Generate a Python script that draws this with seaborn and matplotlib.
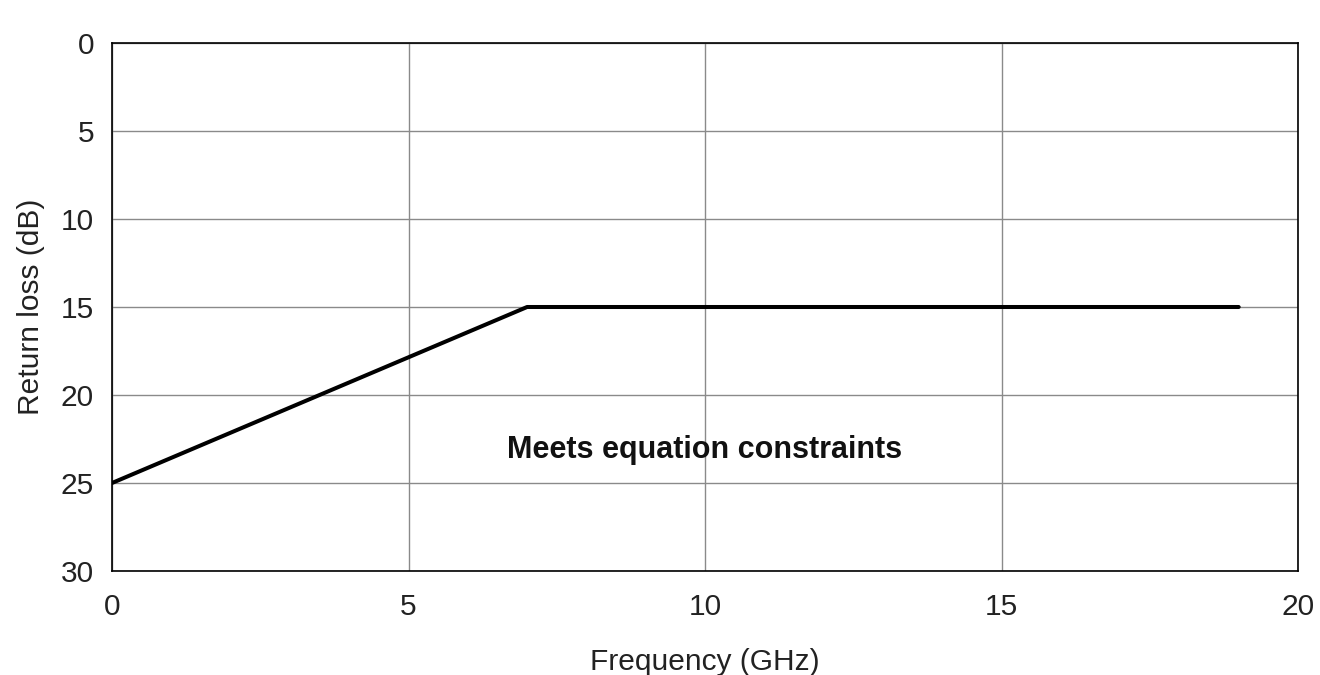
import matplotlib
matplotlib.use("Agg")
import matplotlib.pyplot as plt
import seaborn as sns
import pandas as pd

freq_ghz = [0, 7, 19]
return_loss_db = [25, 15, 15]
x_ticks = [0, 5, 10, 15, 20]
y_ticks = [0, 5, 10, 15, 20, 25, 30]
annotation = "Meets equation constraints"

sns.set_theme(style="white")
plt.rcParams['font.family'] = ['Liberation Sans', 'DejaVu Sans']

df = pd.DataFrame({"Frequency (GHz)": freq_ghz, "Return loss (dB)": return_loss_db})

fig = plt.figure(figsize=(13.2, 6.75), dpi=100)
ax = fig.add_axes([112/1320, 1 - 571/675, (1298-112)/1320, (571-43)/675])

sns.lineplot(data=df, x="Frequency (GHz)", y="Return loss (dB)", ax=ax,
             color="black", linewidth=2.9, sort=False)

ax.set_xlim(0, 20)
ax.set_ylim(30, 0)
ax.set_xticks(x_ticks)
ax.set_yticks(y_ticks)
ax.grid(True, color="#8a8a8a", linewidth=1.0)
ax.set_axisbelow(True)
for s in ax.spines.values():
    s.set_color("black")
    s.set_linewidth(1.2)
ax.tick_params(axis="both", length=0, labelsize=21.5, colors="#222222")
ax.tick_params(axis="y", pad=13)
ax.tick_params(axis="x", pad=16)
ax.set_xlabel("Frequency (GHz)", fontsize=21.5, color="#222222", labelpad=19)
ax.set_ylabel("Return loss (dB)", fontsize=21.5, color="#222222", labelpad=11)

ax.text(10, 23.1, annotation, ha="center", va="center", fontsize=22,
        fontweight="bold", color="#111111")

fig.savefig("out.png", dpi=100, facecolor="white")
